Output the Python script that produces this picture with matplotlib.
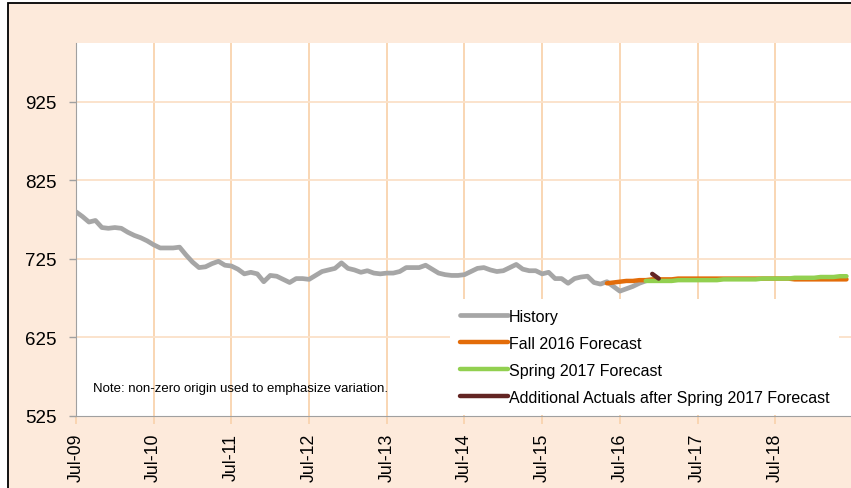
import matplotlib
matplotlib.use("Agg")
import matplotlib.pyplot as plt
from matplotlib.patches import Rectangle

plt.rcParams['font.family'] = ['Liberation Sans', 'DejaVu Sans']

# month index 0 = Jul-09
history = [785, 779, 772, 774, 765, 764, 765, 764, 759, 755, 752, 748,
           743, 739, 739, 739, 740, 730, 721, 714, 715, 719, 722, 717,
           716, 712, 706, 708, 706, 696, 704, 703, 699, 695, 700, 700,
           699, 704, 709, 711, 713, 720, 713, 711, 708, 710, 707, 706,
           707, 707, 709, 714, 714, 714, 717, 712, 707, 705, 704, 704,
           705, 709, 713, 714, 711, 709, 710, 714, 718, 712, 710, 710,
           706, 708, 700, 700, 694, 700, 702, 703, 695, 693, 696, 690,
           684, 687, 690, 694, 697]
fall2016Start = 82
fall2016 = [694, 695, 696, 697, 697, 698, 698, 699, 699, 699, 699, 700,
            700, 700, 700, 700, 700, 700, 700, 700, 700, 700, 700, 700,
            700, 700, 700, 700, 700, 699, 699, 699, 699, 699, 699, 699,
            699, 699]
spring2017Start = 88
spring2017 = [697, 697, 697, 697, 697, 698, 698, 698, 698, 698, 698, 698,
              699, 699, 699, 699, 699, 699, 700, 700, 700, 700, 700, 701,
              701, 701, 701, 702, 702, 702, 703, 703]
actualsStart = 89
actuals = [706, 700]

tickLabels = ['Jul-09', 'Jul-10', 'Jul-11', 'Jul-12', 'Jul-13',
              'Jul-14', 'Jul-15', 'Jul-16', 'Jul-17', 'Jul-18']
yTicks = [525, 625, 725, 825, 925]

peach = '#FDEADB'
gridV = '#F9D3AE'
gridH = '#FBE1C8'

fig = plt.figure(figsize=(8.51, 4.89), dpi=100, facecolor='white')
fig.patches.append(Rectangle((8 / 851, -0.1), 1.1, 1.1 - 4 / 489,
                             transform=fig.transFigure, facecolor=peach,
                             edgecolor='black', linewidth=1.3, zorder=-10))
ax = fig.add_axes([76 / 851, 1 - 417 / 489, 1 - 76 / 851, 373 / 489])
ax.set_facecolor('white')

ax.plot(range(len(history)), history, color='#A6A6A6', lw=3.4,
        label='History', solid_capstyle='round', zorder=3)
ax.plot(range(fall2016Start, fall2016Start + len(fall2016)), fall2016,
        color='#E36C09', lw=3.2, label='Fall 2016 Forecast',
        solid_capstyle='round', zorder=4)
ax.plot(range(spring2017Start, spring2017Start + len(spring2017)), spring2017,
        color='#92D050', lw=3.2, label='Spring 2017 Forecast',
        solid_capstyle='round', zorder=5)
ax.plot(range(actualsStart, actualsStart + len(actuals)), actuals,
        color='#632523', lw=3.2,
        label='Additional Actuals after Spring 2017 Forecast',
        solid_capstyle='round', zorder=6)

ax.set_xlim(0, 119.7)
ax.set_ylim(525, 1000)
ax.set_xticks([12 * i for i in range(len(tickLabels))])
ax.set_xticklabels(tickLabels, rotation=90, fontsize=12.8)
ax.set_yticks(yTicks)
ax.set_yticklabels([str(v) for v in yTicks], fontsize=13.5)

for x in ax.get_xticks():
    ax.axvline(x, color=gridV, lw=1.3, zorder=1)
for y in yTicks[1:]:
    ax.axhline(y, color=gridH, lw=1.3, zorder=1)

ax.tick_params(axis='x', length=6, width=1.3, color=gridV, pad=6)
ax.tick_params(axis='y', length=5, width=1, color='#A0A0A0', pad=9)
for s in ['top', 'right']:
    ax.spines[s].set_visible(False)
ax.spines['left'].set_color('#A0A0A0')
ax.spines['bottom'].set_color('#A0A0A0')

ax.text(0.022, 0.075, 'Note: non-zero origin used to emphasize variation.',
        transform=ax.transAxes, fontsize=9.5, va='center', zorder=7)

leg = ax.legend(loc='lower left', bbox_to_anchor=(0.483, 0.004), fontsize=11.5,
                frameon=True, facecolor='white', edgecolor='none', framealpha=1,
                fancybox=False, handlelength=3.0, handletextpad=0.05,
                labelspacing=0.75, borderaxespad=0, borderpad=0.6)
leg.set_zorder(8)

fig.savefig('out.png', dpi=100, facecolor=fig.get_facecolor())
